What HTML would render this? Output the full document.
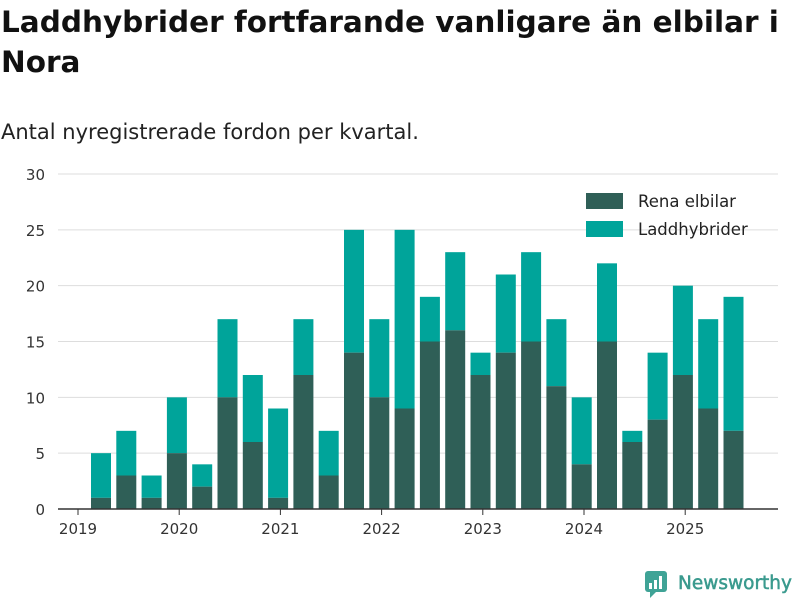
<!DOCTYPE html>
<html><head><meta charset="utf-8"><style>
body{margin:0;width:800px;height:600px;background:#fff;font-family:"DejaVu Sans","Liberation Sans",sans-serif;overflow:hidden;position:relative}
h1{position:absolute;left:1px;top:2px;margin:0;font-size:29.5px;line-height:40px;font-weight:bold;color:#111;width:795px}
.sub{position:absolute;left:1px;top:120px;font-size:21px;color:#222}
svg{position:absolute;left:0;top:0}
</style></head><body>
<h1>Laddhybrider fortfarande vanligare än elbilar i Nora</h1>
<div class="sub">Antal nyregistrerade fordon per kvartal.</div>
<svg id="c" width="800" height="600"></svg>
<script>
const elbilar=[1,3,1,5,2,10,6,1,12,3,14,10,9,15,16,12,14,15,11,4,15,6,8,12,9,7];
const totals=[5,7,3,10,4,17,12,9,17,7,25,17,25,19,23,14,21,23,17,10,22,7,14,20,17,19];
const yTicks=[0,5,10,15,20,25,30];
const years=[2019,2020,2021,2022,2023,2024,2025];
const NS='http://www.w3.org/2000/svg';
const svg=document.getElementById('c');
const y=v=>509-v*(335/30);
const x=t=>78+(t-2019)*101.2;
const bx=i=>101+i*25.3;
function mk(tag,at){const e=document.createElementNS(NS,tag);for(const k in at)e.setAttribute(k,at[k]);svg.appendChild(e);return e;}
yTicks.forEach(v=>{
 if(v>0){const g=mk('line',{x1:58,x2:778,y1:y(v),y2:y(v),stroke:'#ddd','stroke-width':1});
 
 }
 const t=mk('text',{x:45,y:y(v)+6,'text-anchor':'end','font-size':15,fill:'#333'});t.textContent=v;
 
 
});
elbilar.forEach((e,i)=>{
 const cx=bx(i);
 const r2=mk('rect',{x:cx-10,y:y(totals[i]),width:20,height:y(e)-y(totals[i]),fill:'#00a49a'});
 
 
 const r1=mk('rect',{x:cx-10,y:y(e),width:20,height:509-y(e),fill:'#2f5f57'});
 
 
});
const ax=mk('line',{x1:58,x2:778,y1:509,y2:509,stroke:'#333','stroke-width':1.5});


years.forEach(yr=>{
 const px=x(yr);
 const tk=mk('line',{x1:px,x2:px,y1:509,y2:515,stroke:'#333'});
 
 
 const t=mk('text',{x:px,y:534,'text-anchor':'middle','font-size':15,fill:'#333'});t.textContent=yr;
 
 
});
[['Rena elbilar','#2f5f57',201],['Laddhybrider','#00a49a',229]].forEach(([n,c,yy])=>{
 const r=mk('rect',{x:586,y:yy-8,width:37,height:16,fill:c});
 
 
 const t=mk('text',{x:638,y:yy+6,'font-size':16.5,fill:'#222'});t.textContent=n;
 
 
});
const lg=mk('g',{});


lg.innerHTML='<rect x="645" y="571" width="22" height="21" rx="3" fill="#3fa396"/><polygon points="650,592 656,592 650,598" fill="#3fa396"/><rect x="649" y="583" width="3" height="6" fill="#fff"/><rect x="654" y="580" width="3" height="9" fill="#fff"/><rect x="659" y="576" width="3" height="13" fill="#fff"/><text x="678" y="589" font-size="18.5" fill="#3a9a8e" stroke="#3a9a8e" stroke-width="0.5">Newsworthy</text>';
</script>
</body></html>
